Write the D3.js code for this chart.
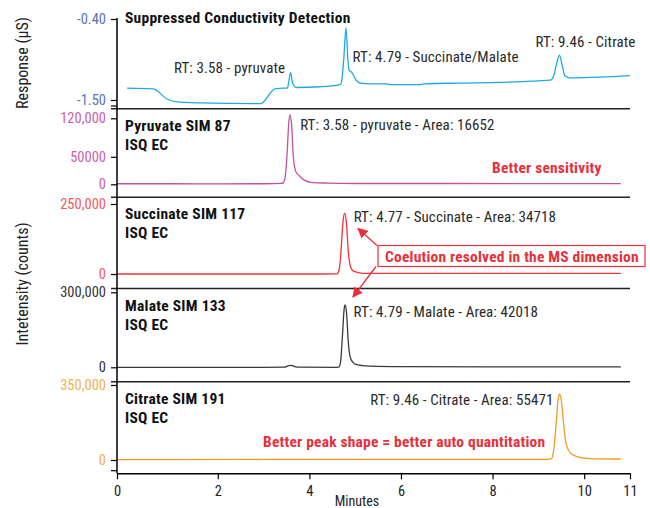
<!DOCTYPE html>
<html>
<head>
<meta charset="utf-8">
<script src="https://cdn.jsdelivr.net/npm/d3@7"></script>
<style>
  body { margin: 0; background: #fff; }
  svg text { font-family: "Liberation Sans Narrow", "Roboto Condensed", "DejaVu Sans Condensed", "Liberation Sans", sans-serif; }
</style>
</head>
<body>
<div id="chart"></div>
<script>
// retention time axis (minutes)
const xTicks = [0, 2, 4, 6, 8, 10, 11];

// conductivity trace [minutes, µS]
const conductivity = [
  [0.02, -1.34], [0.59, -1.35], [0.90, -1.49], [1.18, -1.53], [1.62, -1.54], [2.93, -1.55],
  [3.25, -1.35], [3.43, -1.34], [3.52, -1.34], [3.55, -1.25], [3.59, -1.13], [3.63, -1.26],
  [3.67, -1.31], [3.71, -1.33], [4.24, -1.32], [4.67, -1.29], [4.70, -1.26], [4.75, -0.95],
  [4.80, -0.52], [4.84, -0.95], [4.87, -1.10], [4.92, -1.12], [4.96, -1.16], [5.02, -1.23],
  [5.11, -1.27], [5.33, -1.28], [5.66, -1.28], [5.76, -1.29], [6.42, -1.29], [6.53, -1.28],
  [7.29, -1.27], [8.17, -1.26], [9.26, -1.23], [9.33, -1.18], [9.40, -1.00], [9.46, -0.89],
  [9.52, -1.03], [9.58, -1.17], [9.69, -1.20], [10.35, -1.19], [11.0, -1.17]
];

// SIM traces [minutes, counts]
const pyruvate = [
  [-0.2, 1000], [1, 1000], [2, 800], [3, 1000], [3.40, 1500], [3.46, 8000], [3.51, 50000],
  [3.55, 112000], [3.58, 126000], [3.61, 110000], [3.65, 50000], [3.70, 24000], [3.76, 17000],
  [3.88, 8000], [4.02, 3600], [4.4, 2200], [5, 1500], [7, 1500], [9, 1300], [10.8, 1200]
];
const succinate = [
  [-0.2, 0], [2, 0], [4, 0], [4.60, 500], [4.65, 15000], [4.69, 80000], [4.73, 180000],
  [4.77, 217000], [4.81, 180000], [4.85, 80000], [4.90, 25000], [4.96, 10000], [5.17, 2500],
  [5.5, 2000], [8, 2000], [10.8, 2000]
];
const malate = [
  [-0.2, 0], [3, 0], [3.45, 500], [3.55, 7000], [3.60, 8000], [3.68, 3000], [3.80, 500],
  [4.55, 0], [4.64, 1000], [4.68, 20000], [4.72, 120000], [4.76, 235000], [4.78, 250000],
  [4.81, 220000], [4.85, 100000], [4.89, 42000], [4.95, 20000], [5.0, 13000], [5.15, 7000],
  [5.33, 5000], [6, 3000], [8, 2000], [10.8, 1500]
];
const citrate = [
  [-0.2, 2000], [1, 2000], [3, 2500], [5, 2500], [7, 2500], [9.2, 3000], [9.28, 5000],
  [9.33, 40000], [9.38, 150000], [9.43, 280000], [9.46, 308000], [9.50, 280000], [9.55, 170000],
  [9.60, 80000], [9.64, 54000], [9.70, 32000], [9.77, 23000], [9.90, 12000], [10.06, 8000],
  [10.4, 5500], [10.8, 4600]
];

// y tick values and their printed labels, per panel
const condTicks = [-1.50, -0.40];
const condTickLabels = ["-1.50", "-0.40"];
const pyrTicks = [0, 50000, 120000];
const pyrTickLabels = ["0", "50000", "120,000"];
const sucTicks = [0, 250000];
const sucTickLabels = ["0", "250,000"];
const malTicks = [0, 300000];
const malTickLabels = ["0", "300,000"];
const citTicks = [0, 350000];
const citTickLabels = ["0", "350,000"];

const width = 650, height = 508;
const left = 117, right = 630;

const svg = d3.select("#chart").append("svg")
  .attr("width", width)
  .attr("height", height);

const x = d3.scaleLinear().domain([-0.2, 11]).range([left, right]);

// panels: separator lines and y scale range
const panels = [
  { data: conductivity, ticks: condTicks, labels: condTickLabels, domain: [-1.5, -0.4], range: [100, 19],
    color: "#1ea9e1", tickColor: "#5a72b6", top: null, bottom: 108.7,
    title: ["Suppressed Conductivity Detection"] },
  { data: pyruvate, ticks: pyrTicks, labels: pyrTickLabels, domain: [0, 120000], range: [184.3, 118.3],
    color: "#c4519f", tickColor: "#c95fae", top: 108.7, bottom: 197.3,
    title: ["Pyruvate SIM 87", "ISQ EC"] },
  { data: succinate, ticks: sucTicks, labels: sucTickLabels, domain: [0, 250000], range: [274, 204],
    color: "#ee353c", tickColor: "#f2595c", top: 197.3, bottom: 288.5,
    title: ["Succinate SIM 117", "ISQ EC"] },
  { data: malate, ticks: malTicks, labels: malTickLabels, domain: [0, 300000], range: [367.3, 292.3],
    color: "#3a3a3a", tickColor: "#333", top: 288.5, bottom: 381.7,
    title: ["Malate SIM 133", "ISQ EC"] },
  { data: citrate, ticks: citTicks, labels: citTickLabels, domain: [0, 350000], range: [460, 385],
    color: "#ee9c25", tickColor: "#f2b04f", top: 381.7, bottom: 473.3,
    title: ["Citrate SIM 191", "ISQ EC"] }
];

const line = d3.line().curve(d3.curveMonotoneX);

panels.forEach((p, i) => {
  const y = d3.scaleLinear().domain(p.domain).range(p.range);

  // y axis ticks
  const ax = svg.append("g")
    .attr("transform", `translate(${left},0)`)
    .call(d3.axisLeft(y).tickValues(p.ticks).tickSize(6).tickSizeOuter(0)
      .tickFormat((d, j) => p.labels[j]));
  ax.select(".domain").remove();
  ax.selectAll(".tick line").attr("stroke", "#000").attr("stroke-width", 1.2);
  ax.selectAll(".tick text")
    .attr("x", -11)
    .attr("fill", p.tickColor)
    .style("font-size", "14.5px");

  // trace
  svg.append("path")
    .datum(p.data)
    .attr("fill", "none")
    .attr("stroke", p.color)
    .attr("stroke-width", 1.3)
    .attr("d", line.x(d => x(d[0])).y(d => y(d[1])));

  // title
  const tt = svg.append("text")
    .attr("x", left + 8)
    .attr("y", (p.top === null ? 23 : p.top + 22))
    .attr("fill", "#111")
    .style("font-size", "15.5px")
    .style("letter-spacing", "0.25px")
    .style("font-weight", "bold");
  p.title.forEach((s, j) => {
    tt.append("tspan").attr("x", left + 8).attr("dy", j === 0 ? 0 : 19).text(s);
  });

  // separator under panel
  if (i < panels.length - 1) {
    svg.append("line")
      .attr("x1", left - 6).attr("x2", right)
      .attr("y1", p.bottom).attr("y2", p.bottom)
      .attr("stroke", "#222").attr("stroke-width", 1.5);
  }
});

// axis break marks
[106, 470.7].forEach(yy => {
  svg.append("line")
    .attr("x1", left - 6).attr("x2", left)
    .attr("y1", yy).attr("y2", yy)
    .attr("stroke", "#000").attr("stroke-width", 1.2);
});

// vertical axis line
svg.append("line")
  .attr("x1", left).attr("x2", left)
  .attr("y1", 18).attr("y2", 473.3)
  .attr("stroke", "#000").attr("stroke-width", 1.5);

// x axis
const xa = svg.append("g")
  .attr("transform", "translate(0,473.3)")
  .call(d3.axisBottom(x)
    .tickValues(xTicks.map(d => d === 0 ? -0.2 : d))
    .tickFormat(d => d < 0 ? "0" : d)
    .tickSize(6).tickSizeOuter(0));
xa.select(".domain").attr("stroke", "#000").attr("stroke-width", 1.5);
xa.selectAll(".tick line").attr("stroke", "#000").attr("stroke-width", 1.2);
xa.selectAll(".tick text").attr("y", 12).attr("fill", "#222").style("font-size", "14.5px");

svg.append("text")
  .attr("x", 357).attr("y", 506)
  .attr("text-anchor", "middle")
  .attr("fill", "#222")
  .style("font-size", "14px")
  .text("Minutes");

// y titles
svg.append("text")
  .attr("transform", "translate(28,63) rotate(-90)")
  .attr("text-anchor", "middle")
  .attr("fill", "#222")
  .style("font-size", "16px")
  .text("Response (µS)");
svg.append("text")
  .attr("transform", "translate(28,284) rotate(-90)")
  .attr("text-anchor", "middle")
  .attr("fill", "#222")
  .style("font-size", "16px")
  .text("Intetensity (counts)");

// peak labels
const labelColor = "#2a2a2a";
function label(txt, px, py, anchor) {
  svg.append("text")
    .attr("x", px).attr("y", py)
    .attr("text-anchor", anchor || "start")
    .attr("fill", labelColor)
    .style("font-size", "15px")
    .style("letter-spacing", "0.1px")
    .text(txt);
}
label("RT: 3.58 - pyruvate", x(3.58) - 5, 73, "end");
label("RT: 4.79 - Succinate/Malate", x(4.79) + 7, 62);
label("RT: 9.46 - Citrate", x(9.46) - 24, 47);
label("RT: 3.58 - pyruvate - Area: 16652", x(3.58) + 10, 130);
label("RT: 4.77 - Succinate - Area: 34718", x(4.77) + 9, 222);
label("RT: 4.79 - Malate - Area: 42018", x(4.79) + 8, 317);
label("RT: 9.46 - Citrate - Area: 55471", x(9.46) - 6, 405, "end");

// red call-outs
const red = "#e8303a";
function callout(txt, px, py) {
  return svg.append("text")
    .attr("x", px).attr("y", py)
    .attr("fill", red)
    .style("font-size", "15.5px")
    .style("letter-spacing", "0.2px")
    .style("font-weight", "bold")
    .text(txt);
}
callout("Better sensitivity", 492, 173);
callout("Better peak shape = better auto quantitation", 263, 447);

svg.append("rect")
  .attr("x", 378).attr("y", 245.5)
  .attr("width", 267).attr("height", 21)
  .attr("fill", "#fff")
  .attr("stroke", red).attr("stroke-width", 1.2);
callout("Coelution resolved in the MS dimension", 385, 261.5);

svg.append("defs").append("marker")
  .attr("id", "arr")
  .attr("viewBox", "0 0 10 10")
  .attr("refX", 9).attr("refY", 5)
  .attr("markerWidth", 8).attr("markerHeight", 8)
  .attr("orient", "auto")
  .append("path")
  .attr("d", "M0,0 L10,5 L0,10 Z")
  .attr("fill", red);

[[377, 245.5, 358, 228.5], [376, 266.5, 353, 297]].forEach(a => {
  svg.append("line")
    .attr("x1", a[0]).attr("y1", a[1])
    .attr("x2", a[2]).attr("y2", a[3])
    .attr("stroke", red).attr("stroke-width", 1.3)
    .attr("marker-end", "url(#arr)");
});
</script>
</body>
</html>
